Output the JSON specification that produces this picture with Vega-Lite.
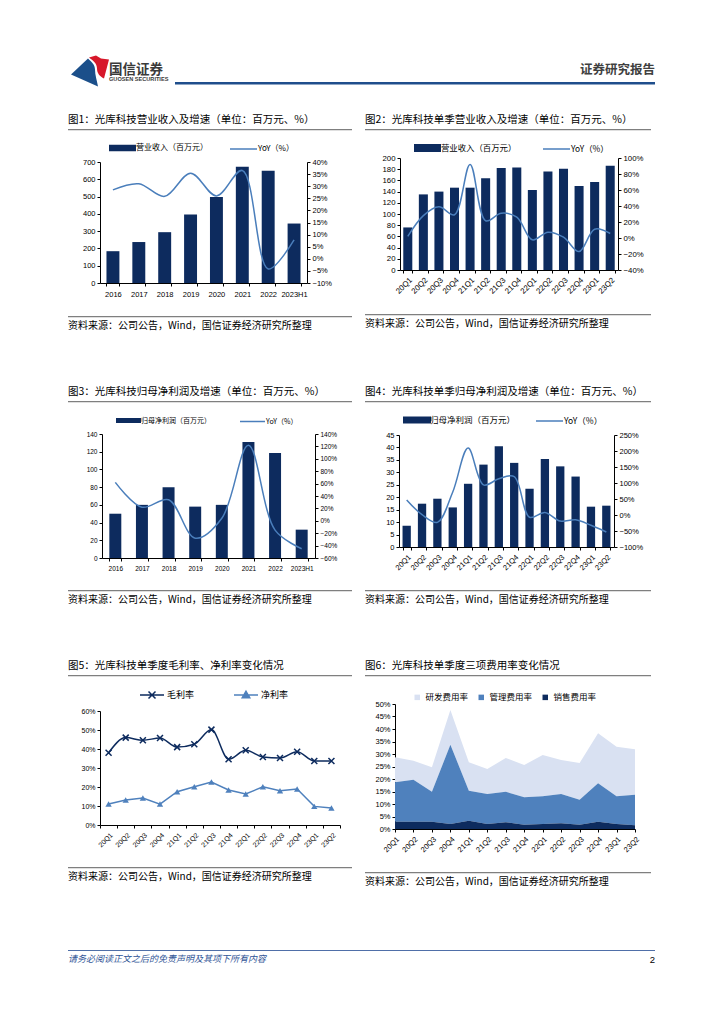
{
"$schema": "https://vega.github.io/schema/vega-lite/v6.json",
"background": "white",
"padding": {"left": 68, "top": 55, "right": 10, "bottom": 10},
"config": {
 "view": {"stroke": null},
 "axis": {"domainColor": "#000000", "tickColor": "#000000", "tickSize": 3, "labelFont": "Liberation Sans", "labelFontSize": 7.5, "labelColor": "#000000", "grid": false, "labelPadding": 2, "domainWidth": 1, "tickWidth": 1, "labelOverlap": false},
 "legend": {"labelFont": "Noto Sans CJK SC", "labelColor": "#000000", "symbolStrokeWidth": 1.5},
 "title": {"font": "Noto Sans CJK SC", "fontWeight": "normal", "color": "#000000", "anchor": "start"}
},
"resolve": {"scale": {"color": "independent", "fill": "independent", "stroke": "independent"}, "legend": {"color": "independent", "fill": "independent", "stroke": "independent"}},
"spacing": 54,
"vconcat": [
{"spacing": 27,
 "resolve": {"scale": {"color": "independent", "fill": "independent", "stroke": "independent"}, "legend": {"color": "independent", "fill": "independent", "stroke": "independent"}},
 "vconcat": [
 {"spacing": 0, "hconcat": [
  {"width": 36, "height": 1, "data": {"values": [{}]}, "layer": [
   {"mark": {"type": "point", "filled": true, "opacity": 1, "size": 4, "strokeWidth": 0, "color": "#D7182A", "shape": "M3,-25L10,-27L15,-24L23,-23L18,-4C14,-6,11,-9,11,-14C11,-19,7,-22,3,-25Z"}, "encoding": {}},
   {"mark": {"type": "point", "filled": true, "opacity": 1, "size": 4, "strokeWidth": 0, "color": "#1B4F8A", "shape": "M-15,-8L2,-24C5,-21,9,-18,9,-13C9,-7,11,-2,12,4Z"}, "encoding": {}}
  ]},
  {"width": 66, "height": 1, "data": {"values": [{}]}, "mark": {"type": "text", "text": "", "fontSize": 0, "opacity": 0}, "encoding": {},
   "title": {"text": "国信证券", "subtitle": "GUOSEN SECURITIES", "offset": -1, "fontSize": 13.5, "fontWeight": "bold", "color": "#3A3A3A", "subtitleFont": "Liberation Sans", "subtitleFontSize": 5.6, "subtitleFontWeight": "bold", "subtitleColor": "#3A3A3A", "subtitlePadding": 1}},
  {"width": 480, "height": 2.5, "view": {"fill": "#1F4E8C"}, "data": {"values": [{}]}, "mark": {"type": "text", "text": "", "fontSize": 0, "opacity": 0}, "encoding": {},
   "title": {"text": "证券研究报告", "anchor": "end", "offset": 6, "fontSize": 12.5, "fontWeight": "bold", "color": "#404040"}}
 ]},
 {"spacing": 13,
  "resolve": {"scale": {"color": "independent", "fill": "independent", "stroke": "independent"}, "legend": {"color": "independent", "fill": "independent", "stroke": "independent"}},
  "hconcat": [
  {"spacing": 12,
   "resolve": {"scale": {"color": "independent", "fill": "independent", "stroke": "independent"}, "legend": {"color": "independent", "fill": "independent", "stroke": "independent"}},
   "vconcat": [
   {"width": 284, "height": 1.3, "view": {"fill": "#7F7F7F"}, "data": {"values": [{}]}, "mark": {"type": "text", "text": "", "fontSize": 0, "opacity": 0}, "encoding": {},
    "title": {"text": "图1：光库科技营业收入及增速（单位：百万元、%）", "offset": 4, "fontSize": 10.5}},
   {"spacing": 0,
    "resolve": {"scale": {"color": "independent", "fill": "independent", "stroke": "independent"}, "legend": {"color": "independent", "fill": "independent", "stroke": "independent"}},
    "hconcat": [
    {"width": 14, "height": 1, "data": {"values": [{}]}, "mark": {"type": "text", "text": "", "fontSize": 0, "opacity": 0}, "encoding": {}},
    {"width": 207, "height": 121,
     "data": {"values": [
      {"x": "2016", "v": 184, "yoy": 0.285},
      {"x": "2017", "v": 237, "yoy": 0.31},
      {"x": "2018", "v": 294, "yoy": 0.258},
      {"x": "2019", "v": 396, "yoy": 0.354},
      {"x": "2020", "v": 497, "yoy": 0.26},
      {"x": "2021", "v": 672, "yoy": 0.365},
      {"x": "2022", "v": 650, "yoy": -0.042},
      {"x": "2023H1", "v": 344, "yoy": 0.078}
     ]},
     "encoding": {"x": {"field": "x", "type": "ordinal", "sort": null, "title": null, "scale": {"paddingInner": 0.5, "paddingOuter": 0.25}, "axis": {"labelAngle": 0, "tickBand": "extent", "labelPadding": 4}}},
     "layer": [
      {"mark": {"type": "bar"}, "encoding": {
       "y": {"field": "v", "type": "quantitative", "title": null, "scale": {"domain": [0, 700], "nice": false}, "axis": {"values": [0, 100, 200, 300, 400, 500, 600, 700]}},
       "fill": {"datum": "营业收入（百万元）", "scale": {"range": ["#0D2B5E"]},
        "legend": {"orient": "none", "legendX": 9, "legendY": -19, "title": null, "symbolType": "M-1,-0.65H4.4V0.65H-1Z", "symbolSize": 100, "symbolStrokeWidth": 0, "labelFontSize": 8, "labelOffset": 17}}}},
      {"mark": {"type": "line", "interpolate": "catmull-rom", "strokeWidth": 1.5}, "encoding": {
       "y": {"field": "yoy", "type": "quantitative", "title": null, "scale": {"domain": [-0.1, 0.4], "nice": false, "zero": false}, "axis": {"orient": "right", "format": ".0%", "values": [-0.1, -0.05, 0, 0.05, 0.1, 0.15, 0.2, 0.25, 0.3, 0.35, 0.4]}},
       "stroke": {"datum": "YoY（%）", "scale": {"range": ["#4A7EBB"]},
        "legend": {"orient": "none", "legendX": 129, "legendY": -19, "title": null, "symbolType": "M-1,0H4.4", "symbolSize": 100, "labelFontSize": 8, "labelOffset": 17}}}}
     ],
     "resolve": {"scale": {"y": "independent"}}}
   ]},
   {"width": 284, "height": 1.3, "view": {"fill": "#7F7F7F"}, "data": {"values": [{}]}, "mark": {"type": "text", "text": " ", "fontSize": 6, "baseline": "bottom", "opacity": 0}, "encoding": {},
    "title": {"text": "资料来源：公司公告，Wind，国信证券经济研究所整理", "orient": "bottom", "offset": 4, "fontSize": 10}}
  ]},
  {"spacing": 12,
   "resolve": {"scale": {"color": "independent", "fill": "independent", "stroke": "independent"}, "legend": {"color": "independent", "fill": "independent", "stroke": "independent"}},
   "vconcat": [
   {"width": 286, "height": 1.3, "view": {"fill": "#7F7F7F"}, "data": {"values": [{}]}, "mark": {"type": "text", "text": "", "fontSize": 0, "opacity": 0}, "encoding": {},
    "title": {"text": "图2：光库科技单季营业收入及增速（单位：百万元、%）", "offset": 4, "fontSize": 10.5}},
   {"spacing": 0,
    "resolve": {"scale": {"color": "independent", "fill": "independent", "stroke": "independent"}, "legend": {"color": "independent", "fill": "independent", "stroke": "independent"}},
    "hconcat": [
    {"width": 16, "height": 1, "data": {"values": [{}]}, "mark": {"type": "text", "text": "", "fontSize": 0, "opacity": 0}, "encoding": {}},
    {"width": 218, "height": 112,
     "data": {"values": [
      {"x": "20Q1", "v": 76, "yoy": 0.02},
      {"x": "20Q2", "v": 135, "yoy": 0.28},
      {"x": "20Q3", "v": 140, "yoy": 0.39},
      {"x": "20Q4", "v": 147, "yoy": 0.29},
      {"x": "21Q1", "v": 147, "yoy": 0.92},
      {"x": "21Q2", "v": 164, "yoy": 0.215},
      {"x": "21Q3", "v": 182, "yoy": 0.31},
      {"x": "21Q4", "v": 183, "yoy": 0.26},
      {"x": "22Q1", "v": 143, "yoy": -0.023},
      {"x": "22Q2", "v": 176, "yoy": 0.073},
      {"x": "22Q3", "v": 181, "yoy": 0.01},
      {"x": "22Q4", "v": 150, "yoy": -0.17},
      {"x": "23Q1", "v": 157, "yoy": 0.11},
      {"x": "23Q2", "v": 186, "yoy": 0.056}
     ]},
     "encoding": {"x": {"field": "x", "type": "ordinal", "sort": null, "title": null, "scale": {"paddingInner": 0.42, "paddingOuter": 0.21}, "axis": {"labelAngle": -45, "tickBand": "extent", "labelPadding": 3, "labelFontSize": 7.8}}},
     "layer": [
      {"mark": {"type": "bar"}, "encoding": {
       "y": {"field": "v", "type": "quantitative", "title": null, "scale": {"domain": [0, 200], "nice": false}, "axis": {"values": [0, 20, 40, 60, 80, 100, 120, 140, 160, 180, 200], "labelFontSize": 7.8}},
       "fill": {"datum": "营业收入（百万元）", "scale": {"range": ["#0D2B5E"]},
        "legend": {"orient": "none", "legendX": 14, "legendY": -15, "title": null, "symbolType": "M-1,-0.8H4.4V0.8H-1Z", "symbolSize": 100, "symbolStrokeWidth": 0, "labelFontSize": 8.4, "labelOffset": 17}}}},
      {"mark": {"type": "line", "interpolate": "catmull-rom", "strokeWidth": 1.5}, "encoding": {
       "y": {"field": "yoy", "type": "quantitative", "title": null, "scale": {"domain": [-0.4, 1], "nice": false, "zero": false}, "axis": {"orient": "right", "format": ".0%", "values": [-0.4, -0.2, 0, 0.2, 0.4, 0.6, 0.8, 1], "labelFontSize": 7.8}},
       "stroke": {"datum": "YoY（%）", "scale": {"range": ["#4A7EBB"]},
        "legend": {"orient": "none", "legendX": 142, "legendY": -15, "title": null, "symbolType": "M-1,0H4.4", "symbolSize": 100, "labelFontSize": 8.4, "labelOffset": 17}}}}
     ],
     "resolve": {"scale": {"y": "independent"}}}
   ]},
   {"width": 286, "height": 1.3, "view": {"fill": "#7F7F7F"}, "data": {"values": [{}]}, "mark": {"type": "text", "text": " ", "fontSize": 6, "baseline": "bottom", "opacity": 0}, "encoding": {},
    "title": {"text": "资料来源：公司公告，Wind，国信证券经济研究所整理", "orient": "bottom", "offset": 4, "fontSize": 10}}
  ]}
 ]}
]},
{"spacing": 13,
 "resolve": {"scale": {"color": "independent", "fill": "independent", "stroke": "independent"}, "legend": {"color": "independent", "fill": "independent", "stroke": "independent"}},
 "hconcat": [
 {"spacing": 12,
  "resolve": {"scale": {"color": "independent", "fill": "independent", "stroke": "independent"}, "legend": {"color": "independent", "fill": "independent", "stroke": "independent"}},
  "vconcat": [
  {"width": 284, "height": 1.3, "view": {"fill": "#7F7F7F"}, "data": {"values": [{}]}, "mark": {"type": "text", "text": "", "fontSize": 0, "opacity": 0}, "encoding": {},
   "title": {"text": "图3：光库科技归母净利润及增速（单位：百万元、%）", "offset": 4, "fontSize": 10.5}},
  {"spacing": 0,
   "resolve": {"scale": {"color": "independent", "fill": "independent", "stroke": "independent"}, "legend": {"color": "independent", "fill": "independent", "stroke": "independent"}},
   "hconcat": [
   {"width": 18, "height": 1, "data": {"values": [{}]}, "mark": {"type": "text", "text": "", "fontSize": 0, "opacity": 0}, "encoding": {}},
   {"width": 213, "height": 124,
    "data": {"values": [
     {"x": "2016", "v": 50, "yoy": 0.62},
     {"x": "2017", "v": 60, "yoy": 0.22},
     {"x": "2018", "v": 80, "yoy": 0.34},
     {"x": "2019", "v": 58, "yoy": -0.28},
     {"x": "2020", "v": 60, "yoy": 0.04},
     {"x": "2021", "v": 131, "yoy": 1.22},
     {"x": "2022", "v": 118.5, "yoy": -0.15},
     {"x": "2023H1", "v": 32, "yoy": -0.45}
    ]},
    "encoding": {"x": {"field": "x", "type": "ordinal", "sort": null, "title": null, "scale": {"paddingInner": 0.55, "paddingOuter": 0.275}, "axis": {"labelAngle": 0, "tickBand": "extent", "labelPadding": 4, "labelFontSize": 6.5}}},
    "layer": [
     {"mark": {"type": "bar"}, "encoding": {
      "y": {"field": "v", "type": "quantitative", "title": null, "scale": {"domain": [0, 140], "nice": false}, "axis": {"values": [0, 20, 40, 60, 80, 100, 120, 140], "labelFontSize": 6.5}},
      "fill": {"datum": "归母净利润（百万元）", "scale": {"range": ["#0D2B5E"]},
       "legend": {"orient": "none", "legendX": 14, "legendY": -18.5, "title": null, "symbolType": "M-1,-0.5H4V0.5H-1Z", "symbolSize": 100, "symbolStrokeWidth": 0, "labelFontSize": 7, "labelOffset": 15}}}},
     {"mark": {"type": "line", "interpolate": "catmull-rom", "strokeWidth": 1.5}, "encoding": {
      "y": {"field": "yoy", "type": "quantitative", "title": null, "scale": {"domain": [-0.6, 1.4], "nice": false, "zero": false}, "axis": {"orient": "right", "format": ".0%", "values": [-0.6, -0.4, -0.2, 0, 0.2, 0.4, 0.6, 0.8, 1, 1.2, 1.4], "labelFontSize": 6.5}},
      "stroke": {"datum": "YoY（%）", "scale": {"range": ["#4A7EBB"]},
       "legend": {"orient": "none", "legendX": 137, "legendY": -18.5, "title": null, "symbolType": "M-1,0H4", "symbolSize": 100, "labelFontSize": 7, "labelOffset": 15}}}}
    ],
    "resolve": {"scale": {"y": "independent"}}}
  ]},
  {"width": 284, "height": 1.3, "view": {"fill": "#7F7F7F"}, "data": {"values": [{}]}, "mark": {"type": "text", "text": " ", "fontSize": 6, "baseline": "bottom", "opacity": 0}, "encoding": {},
   "title": {"text": "资料来源：公司公告，Wind，国信证券经济研究所整理", "orient": "bottom", "offset": 4, "fontSize": 10}}
 ]},
 {"spacing": 12,
  "resolve": {"scale": {"color": "independent", "fill": "independent", "stroke": "independent"}, "legend": {"color": "independent", "fill": "independent", "stroke": "independent"}},
  "vconcat": [
  {"width": 286, "height": 1.3, "view": {"fill": "#7F7F7F"}, "data": {"values": [{}]}, "mark": {"type": "text", "text": "", "fontSize": 0, "opacity": 0}, "encoding": {},
   "title": {"text": "图4：光库科技单季归母净利润及增速（单位：百万元、%）", "offset": 4, "fontSize": 10.5}},
  {"spacing": 0,
   "resolve": {"scale": {"color": "independent", "fill": "independent", "stroke": "independent"}, "legend": {"color": "independent", "fill": "independent", "stroke": "independent"}},
   "hconcat": [
   {"width": 20, "height": 1, "data": {"values": [{}]}, "mark": {"type": "text", "text": "", "fontSize": 0, "opacity": 0}, "encoding": {}},
   {"width": 215, "height": 112,
    "data": {"values": [
     {"x": "20Q1", "v": 8.5, "yoy": 0.47},
     {"x": "20Q2", "v": 17.4, "yoy": 0.01},
     {"x": "20Q3", "v": 19.4, "yoy": -0.23},
     {"x": "20Q4", "v": 15.9, "yoy": 0.72},
     {"x": "21Q1", "v": 25.4, "yoy": 2.09},
     {"x": "21Q2", "v": 33.1, "yoy": 0.94},
     {"x": "21Q3", "v": 40.5, "yoy": 1.13},
     {"x": "21Q4", "v": 33.8, "yoy": 1.2},
     {"x": "22Q1", "v": 23.4, "yoy": -0.07},
     {"x": "22Q2", "v": 35.4, "yoy": 0.08},
     {"x": "22Q3", "v": 32.4, "yoy": -0.19},
     {"x": "22Q4", "v": 28.3, "yoy": -0.15},
     {"x": "23Q1", "v": 16.2, "yoy": -0.32},
     {"x": "23Q2", "v": 16.6, "yoy": -0.53}
    ]},
    "encoding": {"x": {"field": "x", "type": "ordinal", "sort": null, "title": null, "scale": {"paddingInner": 0.46, "paddingOuter": 0.23}, "axis": {"labelAngle": -45, "tickBand": "extent", "labelPadding": 3}}},
    "layer": [
     {"mark": {"type": "bar"}, "encoding": {
      "y": {"field": "v", "type": "quantitative", "title": null, "scale": {"domain": [0, 45], "nice": false}, "axis": {"values": [0, 5, 10, 15, 20, 25, 30, 35, 40, 45]}},
      "fill": {"datum": "归母净利润（百万元）", "scale": {"range": ["#0D2B5E"]},
       "legend": {"orient": "none", "legendX": 4, "legendY": -20, "title": null, "symbolType": "M-1,-0.7H4.6V0.7H-1Z", "symbolSize": 100, "symbolStrokeWidth": 0, "labelFontSize": 8.5, "labelOffset": 17}}}},
     {"mark": {"type": "line", "interpolate": "catmull-rom", "strokeWidth": 1.5}, "encoding": {
      "y": {"field": "yoy", "type": "quantitative", "title": null, "scale": {"domain": [-1, 2.5], "nice": false, "zero": false}, "axis": {"orient": "right", "format": ".0%", "values": [-1, -0.5, 0, 0.5, 1, 1.5, 2, 2.5]}},
      "stroke": {"datum": "YoY（%）", "scale": {"range": ["#4A7EBB"]},
       "legend": {"orient": "none", "legendX": 136, "legendY": -20, "title": null, "symbolType": "M-1,0H4.4", "symbolSize": 100, "labelFontSize": 8.5, "labelOffset": 17}}}}
    ],
    "resolve": {"scale": {"y": "independent"}}}
  ]},
  {"width": 286, "height": 1.3, "view": {"fill": "#7F7F7F"}, "data": {"values": [{}]}, "mark": {"type": "text", "text": " ", "fontSize": 6, "baseline": "bottom", "opacity": 0}, "encoding": {},
   "title": {"text": "资料来源：公司公告，Wind，国信证券经济研究所整理", "orient": "bottom", "offset": 4, "fontSize": 10}}
 ]}
]},
{"spacing": 62,
 "resolve": {"scale": {"color": "independent", "fill": "independent", "stroke": "independent"}, "legend": {"color": "independent", "fill": "independent", "stroke": "independent"}},
 "vconcat": [
 {"spacing": 13,
  "resolve": {"scale": {"color": "independent", "fill": "independent", "stroke": "independent"}, "legend": {"color": "independent", "fill": "independent", "stroke": "independent"}},
  "hconcat": [
  {"spacing": 12,
   "resolve": {"scale": {"color": "independent", "fill": "independent", "stroke": "independent"}, "legend": {"color": "independent", "fill": "independent", "stroke": "independent"}},
   "vconcat": [
   {"width": 284, "height": 1.3, "view": {"fill": "#7F7F7F"}, "data": {"values": [{}]}, "mark": {"type": "text", "text": "", "fontSize": 0, "opacity": 0}, "encoding": {},
    "title": {"text": "图5：光库科技单季度毛利率、净利率变化情况", "offset": 4, "fontSize": 10.5}},
   {"spacing": 0,
    "resolve": {"scale": {"color": "independent", "fill": "independent", "stroke": "independent"}, "legend": {"color": "independent", "fill": "independent", "stroke": "independent"}},
    "hconcat": [
    {"width": 12, "height": 1, "data": {"values": [{}]}, "mark": {"type": "text", "text": "", "fontSize": 0, "opacity": 0}, "encoding": {}},
    {"width": 240, "height": 114,
     "data": {"values": [
      {"q": "20Q1", "s": "毛利率", "v": 0.38}, {"q": "20Q1", "s": "净利率", "v": 0.11},
      {"q": "20Q2", "s": "毛利率", "v": 0.46}, {"q": "20Q2", "s": "净利率", "v": 0.131},
      {"q": "20Q3", "s": "毛利率", "v": 0.446}, {"q": "20Q3", "s": "净利率", "v": 0.142},
      {"q": "20Q4", "s": "毛利率", "v": 0.458}, {"q": "20Q4", "s": "净利率", "v": 0.11},
      {"q": "21Q1", "s": "毛利率", "v": 0.41}, {"q": "21Q1", "s": "净利率", "v": 0.175},
      {"q": "21Q2", "s": "毛利率", "v": 0.425}, {"q": "21Q2", "s": "净利率", "v": 0.201},
      {"q": "21Q3", "s": "毛利率", "v": 0.502}, {"q": "21Q3", "s": "净利率", "v": 0.226},
      {"q": "21Q4", "s": "毛利率", "v": 0.346}, {"q": "21Q4", "s": "净利率", "v": 0.184},
      {"q": "22Q1", "s": "毛利率", "v": 0.393}, {"q": "22Q1", "s": "净利率", "v": 0.163},
      {"q": "22Q2", "s": "毛利率", "v": 0.358}, {"q": "22Q2", "s": "净利率", "v": 0.201},
      {"q": "22Q3", "s": "毛利率", "v": 0.353}, {"q": "22Q3", "s": "净利率", "v": 0.18},
      {"q": "22Q4", "s": "毛利率", "v": 0.386}, {"q": "22Q4", "s": "净利率", "v": 0.189},
      {"q": "23Q1", "s": "毛利率", "v": 0.337}, {"q": "23Q1", "s": "净利率", "v": 0.098},
      {"q": "23Q2", "s": "毛利率", "v": 0.337}, {"q": "23Q2", "s": "净利率", "v": 0.089}
     ]},
     "encoding": {
      "x": {"field": "q", "type": "ordinal", "sort": null, "title": null, "scale": {"paddingInner": 0, "paddingOuter": 0}, "axis": {"labelAngle": -45, "tickBand": "extent", "labelPadding": 3, "labelFontSize": 7}},
      "y": {"field": "v", "type": "quantitative", "title": null, "scale": {"domain": [0, 0.6], "nice": false}, "axis": {"format": ".0%", "values": [0, 0.1, 0.2, 0.3, 0.4, 0.5, 0.6], "labelFontSize": 7}}
     },
     "layer": [
      {"transform": [{"filter": "datum.s === '毛利率'"}],
       "mark": {"type": "line", "interpolate": "monotone", "strokeWidth": 1.5}, "encoding": {
       "stroke": {"datum": "毛利率", "scale": {"range": ["#0D2B5E"]},
        "legend": {"orient": "none", "legendX": 39, "legendY": -22, "title": null, "symbolType": "M-1,0H3.8M0.7,-0.7L2.1,0.7M0.7,0.7L2.1,-0.7", "symbolSize": 100, "labelFontSize": 9, "labelOffset": 16}}}},
      {"transform": [{"filter": "datum.s === '毛利率'"}],
       "mark": {"type": "point", "shape": "M-1,-1L1,1M-1,1L1,-1", "filled": false, "size": 36, "strokeWidth": 1.5, "opacity": 1}, "encoding": {
       "stroke": {"datum": "毛利率"}}},
      {"transform": [{"filter": "datum.s === '净利率'"}],
       "mark": {"type": "line", "strokeWidth": 1.5}, "encoding": {
       "color": {"datum": "净利率", "scale": {"range": ["#4F81BD"]},
        "legend": {"orient": "none", "legendX": 133, "legendY": -22, "title": null, "symbolType": "M-1,0H3.8M1.4,-0.75L2.15,0.55L0.65,0.55Z", "symbolSize": 100, "labelFontSize": 9, "labelOffset": 16}}}},
      {"transform": [{"filter": "datum.s === '净利率'"}],
       "mark": {"type": "point", "shape": "triangle-up", "filled": true, "size": 40, "opacity": 1}, "encoding": {
       "color": {"datum": "净利率"}}}
     ]}
   ]},
   {"width": 284, "height": 1.3, "view": {"fill": "#7F7F7F"}, "data": {"values": [{}]}, "mark": {"type": "text", "text": " ", "fontSize": 6, "baseline": "bottom", "opacity": 0}, "encoding": {},
    "title": {"text": "资料来源：公司公告，Wind，国信证券经济研究所整理", "orient": "bottom", "offset": 4, "fontSize": 10}}
  ]},
  {"spacing": 12,
   "resolve": {"scale": {"color": "independent", "fill": "independent", "stroke": "independent"}, "legend": {"color": "independent", "fill": "independent", "stroke": "independent"}},
   "vconcat": [
   {"width": 286, "height": 1.3, "view": {"fill": "#7F7F7F"}, "data": {"values": [{}]}, "mark": {"type": "text", "text": "", "fontSize": 0, "opacity": 0}, "encoding": {},
    "title": {"text": "图6：光库科技单季度三项费用率变化情况", "offset": 4, "fontSize": 10.5}},
   {"spacing": 0,
    "resolve": {"scale": {"color": "independent", "fill": "independent", "stroke": "independent"}, "legend": {"color": "independent", "fill": "independent", "stroke": "independent"}},
    "hconcat": [
    {"width": 9, "height": 1, "data": {"values": [{}]}, "mark": {"type": "text", "text": " ", "fontSize": 15.5, "baseline": "bottom", "opacity": 0}, "encoding": {}},
    {"width": 240, "height": 125,
     "data": {"values": [
      {"q": "20Q1", "t": "研发费用率", "v": 0.100}, {"q": "20Q1", "t": "管理费用率", "v": 0.158}, {"q": "20Q1", "t": "销售费用率", "v": 0.029},
      {"q": "20Q2", "t": "研发费用率", "v": 0.076}, {"q": "20Q2", "t": "管理费用率", "v": 0.168}, {"q": "20Q2", "t": "销售费用率", "v": 0.029},
      {"q": "20Q3", "t": "研发费用率", "v": 0.098}, {"q": "20Q3", "t": "管理费用率", "v": 0.120}, {"q": "20Q3", "t": "销售费用率", "v": 0.029},
      {"q": "20Q4", "t": "研发费用率", "v": 0.139}, {"q": "20Q4", "t": "管理费用率", "v": 0.317}, {"q": "20Q4", "t": "销售费用率", "v": 0.020},
      {"q": "21Q1", "t": "研发费用率", "v": 0.114}, {"q": "21Q1", "t": "管理费用率", "v": 0.120}, {"q": "21Q1", "t": "销售费用率", "v": 0.033},
      {"q": "21Q2", "t": "研发费用率", "v": 0.100}, {"q": "21Q2", "t": "管理费用率", "v": 0.120}, {"q": "21Q2", "t": "销售费用率", "v": 0.020},
      {"q": "21Q3", "t": "研发费用率", "v": 0.135}, {"q": "21Q3", "t": "管理费用率", "v": 0.122}, {"q": "21Q3", "t": "销售费用率", "v": 0.027},
      {"q": "21Q4", "t": "研发费用率", "v": 0.129}, {"q": "21Q4", "t": "管理费用率", "v": 0.110}, {"q": "21Q4", "t": "销售费用率", "v": 0.017},
      {"q": "22Q1", "t": "研发费用率", "v": 0.165}, {"q": "22Q1", "t": "管理费用率", "v": 0.111}, {"q": "22Q1", "t": "销售费用率", "v": 0.020},
      {"q": "22Q2", "t": "研发费用率", "v": 0.136}, {"q": "22Q2", "t": "管理费用率", "v": 0.117}, {"q": "22Q2", "t": "销售费用率", "v": 0.023},
      {"q": "22Q3", "t": "研发费用率", "v": 0.147}, {"q": "22Q3", "t": "管理费用率", "v": 0.100}, {"q": "22Q3", "t": "销售费用率", "v": 0.017},
      {"q": "22Q4", "t": "研发费用率", "v": 0.200}, {"q": "22Q4", "t": "管理费用率", "v": 0.154}, {"q": "22Q4", "t": "销售费用率", "v": 0.029},
      {"q": "23Q1", "t": "研发费用率", "v": 0.198}, {"q": "23Q1", "t": "管理费用率", "v": 0.111}, {"q": "23Q1", "t": "销售费用率", "v": 0.020},
      {"q": "23Q2", "t": "研发费用率", "v": 0.182}, {"q": "23Q2", "t": "管理费用率", "v": 0.122}, {"q": "23Q2", "t": "销售费用率", "v": 0.015}
     ]},
     "mark": {"type": "area"},
     "encoding": {
      "x": {"field": "q", "type": "ordinal", "sort": null, "title": null, "scale": {"type": "point", "padding": 0}, "axis": {"labelAngle": -45, "labelPadding": 3}},
      "y": {"field": "v", "type": "quantitative", "stack": "zero", "title": null, "scale": {"domain": [0, 0.5], "nice": false}, "axis": {"format": ".0%", "values": [0, 0.05, 0.1, 0.15, 0.2, 0.25, 0.3, 0.35, 0.4, 0.45, 0.5]}},
      "color": {"field": "t", "type": "nominal", "scale": {"domain": ["研发费用率", "管理费用率", "销售费用率"], "range": ["#D9E1F2", "#4F81BD", "#0D2B5E"]},
       "legend": {"orient": "none", "legendX": 18, "legendY": -11, "direction": "horizontal", "title": null, "symbolType": "square", "symbolSize": 30, "symbolStrokeWidth": 0, "labelFontSize": 8.5, "labelOffset": 4, "columnPadding": 8}},
      "order": {"field": "t", "sort": "descending"}
     }}
   ]},
   {"width": 286, "height": 1.3, "view": {"fill": "#7F7F7F"}, "data": {"values": [{}]}, "mark": {"type": "text", "text": " ", "fontSize": 6, "baseline": "bottom", "opacity": 0}, "encoding": {},
    "title": {"text": "资料来源：公司公告，Wind，国信证券经济研究所整理", "orient": "bottom", "offset": 4, "fontSize": 10}}
  ]}
 ]},
 {"spacing": 0, "hconcat": [
  {"width": 565, "height": 1, "view": {"fill": "#4F6FA8"}, "data": {"values": [{}]}, "mark": {"type": "text", "text": "", "fontSize": 0, "opacity": 0}, "encoding": {},
   "title": {"text": "请务必阅读正文之后的免责声明及其项下所有内容", "orient": "bottom", "offset": 4, "fontSize": 9, "fontStyle": "italic", "color": "#2F5496"}},
  {"width": 22, "height": 1, "view": {"fill": "#4F6FA8"}, "data": {"values": [{}]}, "mark": {"type": "text", "text": "", "fontSize": 0, "opacity": 0}, "encoding": {},
   "title": {"text": "2", "orient": "bottom", "anchor": "end", "offset": 4, "fontSize": 9.5, "font": "Liberation Sans", "color": "#000000"}}
 ]}
]}
]
}
